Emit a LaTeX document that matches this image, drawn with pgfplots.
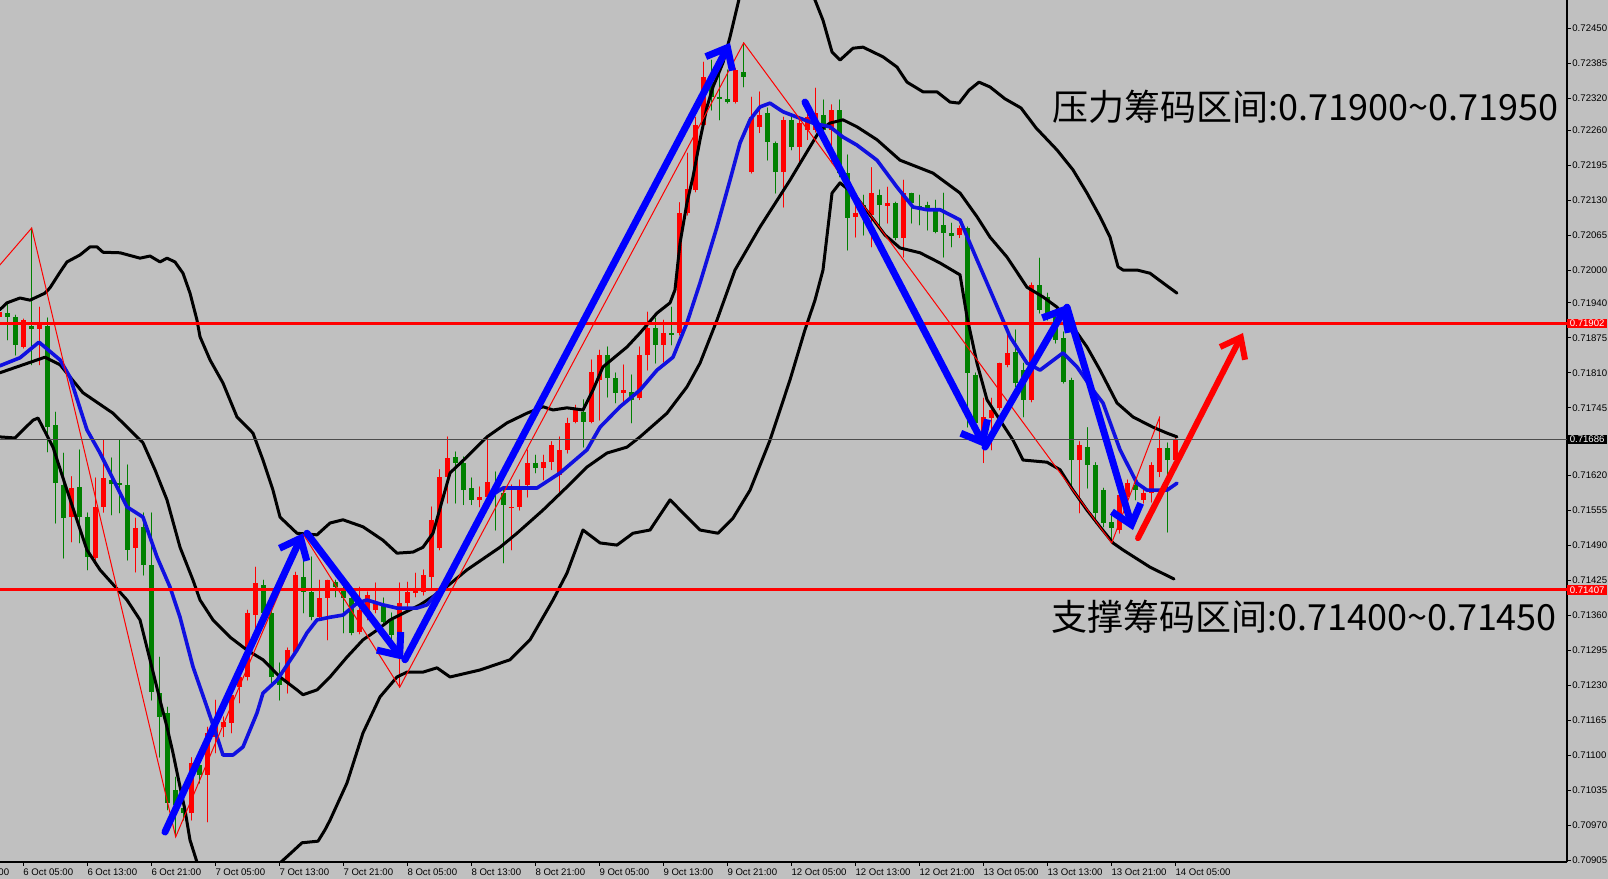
\documentclass[border=0pt]{standalone}
\usepackage{fontspec}
\setmainfont{Liberation Sans}
\newfontfamily\cjk{Noto Sans CJK SC}
\usepackage{pgfplots}
\pgfplotsset{compat=1.18}
\usepackage{pgfplotstable}
\usetikzlibrary{arrows.meta}

\definecolor{bg}{HTML}{C0C0C0}
\definecolor{bull}{HTML}{FF0000}
\definecolor{bear}{HTML}{008000}
\definecolor{ma}{HTML}{1010E0}
\definecolor{arr}{HTML}{0000FF}
\newcommand\tickfont{\fontsize{4.8}{5}\selectfont}

% hourly candles, bar index 0 = 6 Oct 05:00
\pgfplotstableread{
i o h l c
-3 0.71914 0.71936 0.71899 0.71923
0 0.71858 0.71910 0.71856 0.71908
2 0.71892 0.71932 0.71825 0.71903
6 0.71542 0.71617 0.71496 0.71596
9 0.71466 0.71615 0.71453 0.71561
10 0.71561 0.71685 0.71551 0.71615
14 0.71485 0.71540 0.71440 0.71522
21 0.70992 0.71095 0.70979 0.71085
23 0.71063 0.71152 0.70976 0.71141
24 0.71134 0.71202 0.71104 0.71160
25 0.71152 0.71171 0.71134 0.71161
26 0.71160 0.71234 0.71141 0.71212
27 0.71226 0.71264 0.71197 0.71245
28 0.71245 0.71369 0.71239 0.71364
29 0.71360 0.71449 0.71308 0.71420
33 0.71234 0.71299 0.71215 0.71295
34 0.71291 0.71440 0.71286 0.71434
37 0.71356 0.71425 0.71351 0.71392
38 0.71392 0.71425 0.71314 0.71425
42 0.71329 0.71412 0.71325 0.71369
43 0.71369 0.71403 0.71351 0.71397
44 0.71369 0.71420 0.71364 0.71382
47 0.71323 0.71420 0.71226 0.71382
48 0.71382 0.71421 0.71375 0.71403
49 0.71401 0.71438 0.71394 0.71410
50 0.71403 0.71444 0.71397 0.71434
51 0.71431 0.71561 0.71407 0.71537
52 0.71485 0.71630 0.71481 0.71617
53 0.71617 0.71691 0.71568 0.71652
57 0.71574 0.71598 0.71561 0.71579
58 0.71579 0.71691 0.71561 0.71607
61 0.71559 0.71602 0.71481 0.71561
62 0.71561 0.71611 0.71555 0.71592
63 0.71602 0.71667 0.71579 0.71643
65 0.71633 0.71657 0.71611 0.71644
66 0.71644 0.71682 0.71630 0.71676
67 0.71620 0.71691 0.71587 0.71667
68 0.71667 0.71726 0.71661 0.71717
69 0.71719 0.71750 0.71717 0.71741
71 0.71719 0.71834 0.71717 0.71812
72 0.71797 0.71852 0.71722 0.71843
75 0.71773 0.71825 0.71754 0.71778
77 0.71763 0.71858 0.71760 0.71843
78 0.71843 0.71923 0.71815 0.71893
80 0.71862 0.71908 0.71830 0.71884
82 0.71884 0.72126 0.71880 0.72107
83 0.72107 0.72218 0.72103 0.72152
84 0.72150 0.72285 0.72146 0.72270
85 0.72270 0.72387 0.72267 0.72360
89 0.72313 0.72376 0.72311 0.72373
91 0.72183 0.72322 0.72181 0.72285
92 0.72267 0.72332 0.72256 0.72289
95 0.72183 0.72285 0.72118 0.72280
97 0.72230 0.72280 0.72200 0.72274
98 0.72261 0.72298 0.72243 0.72285
99 0.72261 0.72339 0.72257 0.72293
101 0.72261 0.72308 0.72200 0.72298
104 0.72100 0.72122 0.72062 0.72107
106 0.72103 0.72191 0.72044 0.72144
108 0.72120 0.72155 0.72088 0.72126
110 0.72061 0.72168 0.72025 0.72144
117 0.72066 0.72083 0.72061 0.72079
120 0.71685 0.71763 0.71643 0.71728
121 0.71726 0.71763 0.71667 0.71741
122 0.71745 0.71828 0.71741 0.71828
123 0.71825 0.71890 0.71821 0.71847
126 0.71760 0.71977 0.71756 0.71973
132 0.71648 0.71682 0.71550 0.71676
137 0.71518 0.71592 0.71512 0.71583
138 0.71579 0.71611 0.71568 0.71605
140 0.71574 0.71592 0.71568 0.71587
141 0.71587 0.71643 0.71570 0.71639
142 0.71626 0.71728 0.71617 0.71670
144 0.71648 0.71691 0.71644 0.71686
}\bulltab

\pgfplotstableread{
i o h l c
-2 0.71921 0.71940 0.71871 0.71914
-1 0.71914 0.71917 0.71843 0.71862
1 0.71897 0.72079 0.71825 0.71891
3 0.71897 0.71912 0.71663 0.71709
4 0.71713 0.71737 0.71531 0.71605
5 0.71602 0.71661 0.71466 0.71540
7 0.71598 0.71667 0.71494 0.71542
8 0.71542 0.71550 0.71444 0.71468
11 0.71611 0.71652 0.71546 0.71603
12 0.71605 0.71685 0.71550 0.71602
13 0.71602 0.71639 0.71462 0.71481
15 0.71524 0.71550 0.71434 0.71453
16 0.71453 0.71550 0.71202 0.71217
17 0.71215 0.71282 0.71096 0.71171
18 0.71178 0.71189 0.70998 0.71011
19 0.71035 0.71059 0.70948 0.71007
20 0.71002 0.71041 0.70979 0.70992
22 0.71081 0.71109 0.71048 0.71063
30 0.71416 0.71425 0.71350 0.71364
31 0.71364 0.71369 0.71234 0.71245
32 0.71245 0.71271 0.71202 0.71230
35 0.71431 0.71509 0.71364 0.71403
36 0.71403 0.71468 0.71351 0.71356
39 0.71421 0.71425 0.71394 0.71412
40 0.71407 0.71416 0.71327 0.71392
41 0.71392 0.71407 0.71323 0.71327
45 0.71379 0.71392 0.71345 0.71347
46 0.71351 0.71364 0.71314 0.71323
54 0.71654 0.71663 0.71568 0.71643
55 0.71643 0.71654 0.71565 0.71592
56 0.71596 0.71615 0.71565 0.71574
59 0.71592 0.71626 0.71518 0.71587
60 0.71587 0.71598 0.71457 0.71565
64 0.71643 0.71657 0.71624 0.71633
70 0.71737 0.71760 0.71672 0.71719
73 0.71843 0.71858 0.71765 0.71800
74 0.71800 0.71810 0.71754 0.71773
76 0.71774 0.71806 0.71717 0.71760
79 0.71893 0.71912 0.71828 0.71862
81 0.71884 0.71932 0.71862 0.71880
86 0.72350 0.72391 0.72298 0.72322
87 0.72322 0.72373 0.72280 0.72319
88 0.72319 0.72373 0.72311 0.72313
90 0.72369 0.72423 0.72341 0.72360
93 0.72293 0.72302 0.72205 0.72239
94 0.72237 0.72239 0.72144 0.72183
96 0.72280 0.72285 0.72224 0.72230
100 0.72289 0.72317 0.72256 0.72261
102 0.72298 0.72317 0.72174 0.72181
103 0.72181 0.72215 0.72038 0.72098
105 0.72122 0.72140 0.72066 0.72113
107 0.72140 0.72150 0.72081 0.72122
109 0.72126 0.72127 0.72057 0.72061
111 0.72144 0.72144 0.72088 0.72126
112 0.72120 0.72140 0.72085 0.72114
113 0.72122 0.72127 0.72075 0.72116
114 0.72113 0.72131 0.72070 0.72072
115 0.72085 0.72144 0.72025 0.72070
116 0.72070 0.72088 0.72044 0.72064
118 0.72079 0.72081 0.71709 0.71810
119 0.71806 0.71810 0.71704 0.71717
124 0.71849 0.71890 0.71784 0.71791
125 0.71815 0.71828 0.71728 0.71760
127 0.71973 0.72023 0.71921 0.71927
128 0.71951 0.71958 0.71908 0.71912
129 0.71914 0.71927 0.71865 0.71871
130 0.71875 0.71886 0.71791 0.71793
131 0.71797 0.71800 0.71598 0.71648
133 0.71672 0.71708 0.71596 0.71639
134 0.71639 0.71643 0.71531 0.71550
135 0.71592 0.71596 0.71524 0.71531
136 0.71533 0.71550 0.71494 0.71522
139 0.71602 0.71605 0.71574 0.71592
143 0.71670 0.71680 0.71514 0.71648
}\beartab

\begin{document}
\begin{tikzpicture}
\useasboundingbox (0,0) rectangle (804pt,439.5pt);
\fill[bg] (0,0) rectangle (804pt,439.5pt);
\begin{axis}[
  at={(0pt,439.5pt)}, anchor=north west,
  scale only axis, width=783.5pt, height=431pt,
  xmin=-2.9625, xmax=192.91, ymin=0.709013, ymax=0.725026,
  axis x line=bottom, axis y line=right,
  axis line style={black, line width=0.6pt, -},
  tick align=outside, major tick length=2pt,
  tick style={black, line width=0.5pt},
  xtick={0,8,...,144},
  xticklabels={6 Oct 05:00,6 Oct 13:00,6 Oct 21:00,7 Oct 05:00,7 Oct 13:00,7 Oct 21:00,8 Oct 05:00,8 Oct 13:00,8 Oct 21:00,9 Oct 05:00,9 Oct 13:00,9 Oct 21:00,12 Oct 05:00,12 Oct 13:00,12 Oct 21:00,13 Oct 05:00,13 Oct 13:00,13 Oct 21:00,14 Oct 05:00},
  ytick={0.72450,0.72385,0.72320,0.72260,0.72195,0.72130,0.72065,0.72000,0.71940,0.71875,0.71810,0.71745,0.71620,0.71555,0.71490,0.71425,0.71360,0.71295,0.71230,0.71165,0.71100,0.71035,0.70970,0.70905},
  yticklabels={0.72450,0.72385,0.72320,0.72260,0.72195,0.72130,0.72065,0.72000,0.71940,0.71875,0.71810,0.71745,0.71620,0.71555,0.71490,0.71425,0.71360,0.71295,0.71230,0.71165,0.71100,0.71035,0.70970,0.70905},
  ticklabel style={font=\tickfont, text=black},
  xticklabel style={anchor=north west, inner sep=0pt, xshift=-0.3pt, yshift=-1pt},
  yticklabel style={anchor=west, inner sep=0pt, xshift=0.5pt},
  clip mode=individual,
  candle/.style={draw=none, mark=none, forget plot,
    error bars/y dir=plus, error bars/y explicit, error bars/error mark=none},
]
% candles: wicks then bodies
\addplot[candle, error bars/error bar style={draw=bull, line width=0.5pt}]
  table[x=i, y=l, y error plus expr=\thisrow{h}-\thisrow{l}] {\bulltab};
\addplot[candle, error bars/error bar style={draw=bear, line width=0.5pt}]
  table[x=i, y=l, y error plus expr=\thisrow{h}-\thisrow{l}] {\beartab};
\addplot[candle, error bars/error bar style={draw=bull, line width=2.4pt, line cap=butt}]
  table[x=i, y=o, y error plus expr=\thisrow{c}-\thisrow{o}] {\bulltab};
\addplot[candle, error bars/error bar style={draw=bear, line width=2.4pt, line cap=butt}]
  table[x=i, y=c, y error plus expr=\thisrow{o}-\thisrow{c}] {\beartab};

% bands (black)
\addplot[black, line width=1.5pt, line join=round] coordinates {
(-3,0.71927) (-2.09,0.71940) (-0.46,0.71949) (0.79,0.71945) (2.66,0.71958) (3.29,0.71968) (4.54,0.71997) (5.41,0.72016) (7.04,0.72029) (8.29,0.72044) (9.16,0.72044) (9.91,0.72034) (12.04,0.72033) (14.54,0.72023) (15.79,0.72027) (17.04,0.72016) (17.91,0.72023) (18.91,0.72016) (19.91,0.71995) (20.79,0.71958) (21.66,0.71908) (22.04,0.71877) (23.29,0.71834) (24.91,0.71791) (26.66,0.71728) (28.66,0.71698) (29.91,0.71648) (31.16,0.71592) (32.04,0.71542) (34.16,0.71512) (36.66,0.71509) (38.29,0.71531) (39.91,0.71537) (42.41,0.71524) (44.91,0.71499) (46.66,0.71475) (48.66,0.71477) (49.91,0.71486) (51.16,0.71512) (53.29,0.71624) (55.41,0.71654) (57.91,0.71691) (60.41,0.71717) (62.91,0.71735) (64.91,0.71747) (66.16,0.71741) (67.91,0.71745) (69.91,0.71741) (71.16,0.71778) (72.41,0.71821) (75.41,0.71858) (77.04,0.71884) (79.16,0.71921) (80.79,0.71940) (81.41,0.71964) (82.04,0.72051) (82.91,0.72126) (83.66,0.72174) (84.54,0.72243) (85.41,0.72304) (86.16,0.72341) (87.41,0.72386) (88.29,0.72434) (89.54,0.72512)};
\addplot[black, line width=1.5pt, line join=round] coordinates {
(98.66,0.72512) (99.91,0.72465) (101.04,0.72406) (102.04,0.72391) (103.66,0.72413) (104.91,0.72415) (107.41,0.72397) (109.16,0.72378) (110.41,0.72350) (112.41,0.72332) (114.16,0.72332) (115.79,0.72313) (116.91,0.72311) (118.16,0.72335) (119.41,0.72350) (120.79,0.72341) (122.66,0.72319) (124.66,0.72302) (126.54,0.72265) (129.16,0.72224) (131.16,0.72187) (132.91,0.72144) (134.54,0.72100) (135.79,0.72062) (136.79,0.72007) (137.41,0.72001) (139.16,0.72001) (140.79,0.71995) (142.41,0.71977) (144.16,0.71958)};
\addplot[black, line width=1.5pt, line join=round] coordinates {
(-3,0.71810) (-0.46,0.71823) (2.66,0.71839) (4.54,0.71825) (7.41,0.71773) (11.16,0.71735) (14.91,0.71680) (16.41,0.71630) (17.91,0.71574) (19.54,0.71486) (21.16,0.71425) (22.04,0.71388) (23.66,0.71351) (25.79,0.71319) (27.91,0.71295) (29.91,0.71277) (32.04,0.71245) (34.16,0.71221) (34.91,0.71212) (36.66,0.71221) (38.29,0.71245) (40.41,0.71282) (42.41,0.71314) (44.16,0.71332) (45.79,0.71351) (49.54,0.71379) (52.41,0.71407) (55.41,0.71444) (59.54,0.71486) (61.66,0.71512) (64.91,0.71555) (67.91,0.71598) (70.41,0.71635) (72.91,0.71661) (75.41,0.71672) (77.04,0.71691) (80.41,0.71735) (82.91,0.71784) (84.54,0.71828) (86.66,0.71908) (88.91,0.72001) (92.04,0.72081) (95.79,0.72168) (99.54,0.72261) (100.79,0.72274) (102.41,0.72280) (104.16,0.72267) (106.66,0.72243) (109.54,0.72205) (113.66,0.72181) (117.04,0.72144) (119.16,0.72100) (120.79,0.72062) (122.91,0.72025) (125.41,0.71969) (127.41,0.71951) (129.16,0.71932) (131.16,0.71895) (132.91,0.71858) (134.54,0.71815) (136.66,0.71754) (138.66,0.71728) (141.16,0.71709) (142.91,0.71698) (144.16,0.71691)};
\addplot[black, line width=1.5pt, line join=round] coordinates {
(-3,0.71691) (-1.09,0.71689) (1.16,0.71722) (1.79,0.71726) (3.66,0.71672) (5.41,0.71592) (7.91,0.71481) (9.54,0.71444) (12.91,0.71388) (14.54,0.71351) (15.79,0.71277) (17.04,0.71202) (17.91,0.71152) (18.66,0.71104) (19.54,0.71041) (20.16,0.70998) (20.79,0.70942) (21.66,0.70901) (22.66,0.70849)};
\addplot[black, line width=1.5pt, line join=round] coordinates {
(30.54,0.70849) (31.48,0.70892) (33.41,0.70918) (34.79,0.70937) (36.79,0.70940) (37.66,0.70961) (38.29,0.70979) (40.41,0.71048) (42.41,0.71141) (44.54,0.71208) (46.66,0.71245) (47.91,0.71254) (49.91,0.71254) (51.66,0.71262) (53.29,0.71245) (57.04,0.71258) (60.79,0.71277) (63.29,0.71314) (66.16,0.71388) (67.91,0.71438) (69.91,0.71518) (72.04,0.71494) (74.16,0.71490) (76.16,0.71512) (78.29,0.71518) (80.79,0.71574) (84.54,0.71518) (86.79,0.71512) (88.66,0.71540) (90.79,0.71592) (93.29,0.71685) (95.79,0.71797) (97.66,0.71890) (98.91,0.71945) (99.91,0.72001) (101.04,0.72144) (102.04,0.72163) (103.91,0.72140) (105.79,0.72103) (107.66,0.72066) (109.54,0.72042) (112.04,0.72033) (114.54,0.72014) (117.04,0.71992) (117.91,0.71914) (119.16,0.71828) (120.41,0.71760) (122.04,0.71722) (123.66,0.71685) (124.91,0.71648) (127.91,0.71644) (129.54,0.71630) (131.16,0.71592) (132.91,0.71555) (134.54,0.71524) (136.16,0.71494) (137.41,0.71481) (140.79,0.71449) (143.79,0.71427)};

% moving average (blue)
\addplot[ma, line width=1.8pt, line join=round] coordinates {
(-3,0.71823) (-0.46,0.71838) (1.91,0.71867) (4.54,0.71834) (5.79,0.71802) (7.91,0.71704) (9.54,0.71661) (12.91,0.71561) (14.91,0.71542) (16.66,0.71468) (18.29,0.71412) (19.54,0.71356) (21.16,0.71264) (22.91,0.71189) (24.16,0.71134) (24.91,0.71100) (26.16,0.71100) (27.41,0.71115) (29.16,0.71178) (29.91,0.71215) (31.66,0.71239) (34.16,0.71295) (35.41,0.71327) (36.66,0.71351) (38.29,0.71356) (39.91,0.71360) (41.66,0.71382) (42.91,0.71388) (44.91,0.71379) (46.66,0.71373) (49.16,0.71373) (50.41,0.71379) (51.66,0.71401) (53.29,0.71431) (55.16,0.71485) (57.04,0.71546) (58.54,0.71583) (59.91,0.71596) (64.16,0.71596) (67.04,0.71624) (70.41,0.71667) (72.04,0.71709) (74.54,0.71747) (77.04,0.71778) (79.16,0.71815) (81.16,0.71839) (82.91,0.71903) (84.54,0.71977) (86.66,0.72081) (88.29,0.72168) (89.54,0.72237) (90.79,0.72280) (92.04,0.72304) (93.29,0.72311) (94.91,0.72295) (96.66,0.72285) (98.66,0.72274) (100.79,0.72267) (102.41,0.72248) (104.16,0.72233) (106.66,0.72205) (109.16,0.72155) (111.16,0.72118) (112.91,0.72113) (114.54,0.72113) (117.04,0.72094) (119.16,0.72020) (121.16,0.71951) (123.29,0.71877) (125.41,0.71828) (127.04,0.71815) (129.91,0.71847) (131.66,0.71821) (133.66,0.71778) (134.91,0.71754) (137.04,0.71667) (139.16,0.71605) (140.41,0.71592) (142.91,0.71592) (144.16,0.71605)};

% zigzag (thin red)
\addplot[bull, line width=0.5pt] coordinates {
(-3,0.72010) (1,0.72079) (19,0.70948) (35,0.71509) (47,0.71226) (90,0.72423) (136,0.71494) (142,0.71728)};

% horizontal levels
\addplot[gray!60!black, line width=0.5pt] coordinates {(-3,0.71686) (193,0.71686)};
\addplot[bull, line width=1.5pt] coordinates {(-3,0.71902) (193,0.71902)};
\addplot[bull, line width=1.5pt] coordinates {(-3,0.71407) (193,0.71407)};

% hand-drawn arrows
\pgfplotsset{every axis plot/.append style={line cap=round}}
\addplot[arr, line width=3.5pt, -{Straight Barb[length=9pt,width=15pt]}] coordinates {(17.66,0.70957) (34.91,0.71512)};
\addplot[arr, line width=3.5pt, -{Straight Barb[length=9pt,width=15pt]}] coordinates {(35.41,0.71512) (47.41,0.71277)};
\addplot[arr, line width=3.5pt, -{Straight Barb[length=9pt,width=15pt]}] coordinates {(47.66,0.71277) (88.29,0.72423)};
\addplot[arr, line width=3.5pt, -{Straight Barb[length=9pt,width=15pt]}] coordinates {(97.66,0.72313) (120.16,0.71672)};
\addplot[arr, line width=3.5pt, -{Straight Barb[length=9pt,width=15pt]}] coordinates {(120.16,0.71672) (130.41,0.71936)};
\addplot[arr, line width=3.5pt, -{Straight Barb[length=9pt,width=15pt]}] coordinates {(130.41,0.71932) (138.66,0.71518)};
\addplot[bull, line width=3pt, -{Straight Barb[length=9pt,width=14pt]}] coordinates {(139.29,0.71503) (152.41,0.71884)};

% annotations
\node[anchor=east, inner sep=0pt, font=\cjk\fontsize{18}{20}\selectfont] at (axis cs:191.9,0.72304) {压力筹码区间:0.71900{\char"7E}0.71950};
\node[anchor=east, inner sep=0pt, font=\cjk\fontsize{18}{20}\selectfont] at (axis cs:191.7,0.71356) {支撑筹码区间:0.71400{\char"7E}0.71450};

% price boxes on the scale
\node[anchor=west, fill=bull, text=white, font=\tickfont, inner xsep=1.2pt, inner ysep=0.7pt] at (axis cs:192.91,0.71902) {0.71902};
\node[anchor=west, fill=bull, text=white, font=\tickfont, inner xsep=1.2pt, inner ysep=0.7pt] at (axis cs:192.91,0.71407) {0.71407};
\node[anchor=west, fill=black, text=white, font=\tickfont, inner xsep=1.2pt, inner ysep=0.7pt] at (axis cs:192.91,0.71686) {0.71686};
\node[anchor=north west, inner sep=0pt, font=\tickfont, xshift=-0.3pt, yshift=-3pt] at (axis cs:-8,0.709013) {5 Oct 21:00};
\end{axis}
\end{tikzpicture}
\end{document}
